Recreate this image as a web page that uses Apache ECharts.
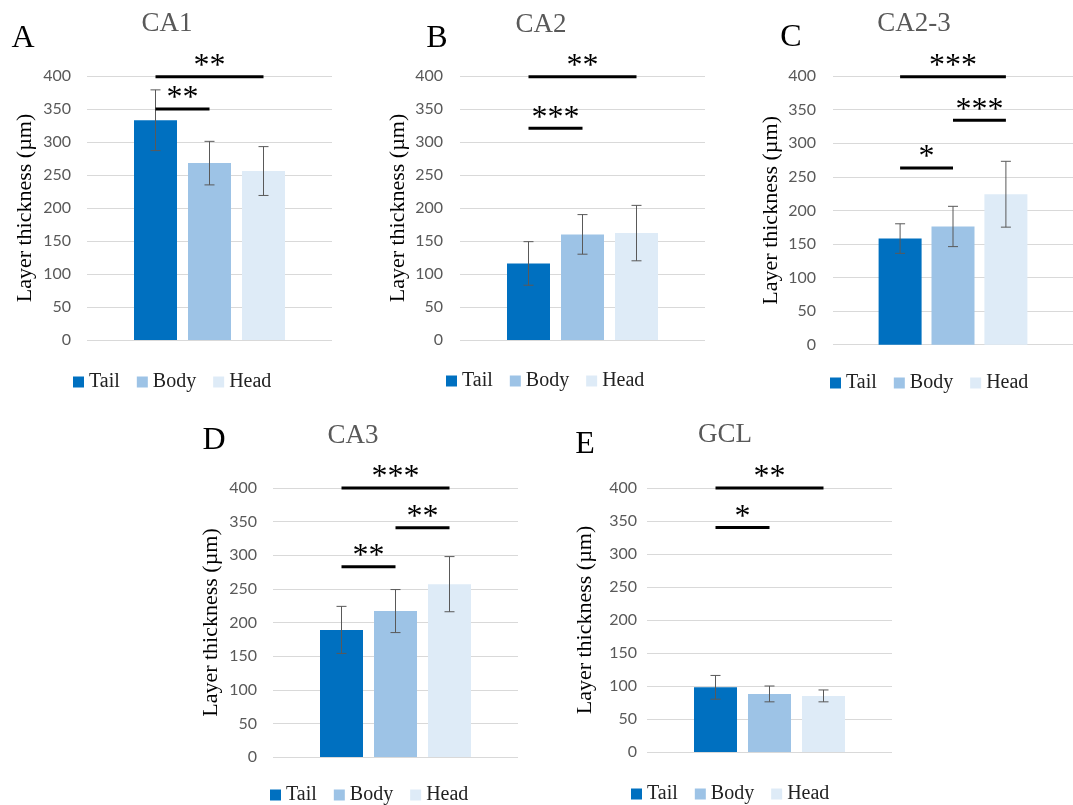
<!DOCTYPE html>
<html>
<head>
<meta charset="utf-8">
<script src="https://cdn.jsdelivr.net/npm/echarts@6/dist/echarts.min.js"></script>
<style>
  html, body { margin: 0; padding: 0; background: #fff; }
  #chart { width: 1073px; height: 805px; }
</style>
</head>
<body>
<div id="chart"></div>
<script>
// data (layer thickness, µm)
var categories = ['Tail', 'Body', 'Head'];
var panelTitles = ['CA1', 'CA2', 'CA2-3', 'CA3', 'GCL'];
var panelLetters = ['A', 'B', 'C', 'D', 'E'];

var tailMean = [333, 116, 158, 189, 98];
var bodyMean = [268, 160, 176, 217, 88];
var headMean = [256, 162, 224, 257, 85];
var tailErr = [46, 33, 22, 35, 18];
var bodyErr = [33, 30, 30, 32, 12];
var headErr = [37, 42, 49, 41, 9];

// significance brackets: [from category, to category, level, stars]
var sigA = [[0, 2, 399, '**'], [0, 1, 350, '**']];
var sigB = [[0, 2, 399, '**'], [0, 1, 321, '***']];
var sigC = [[0, 2, 399, '***'], [1, 2, 334, '***'], [0, 1, 263, '*']];
var sigD = [[0, 2, 400, '***'], [1, 2, 341, '**'], [0, 1, 283, '**']];
var sigE = [[0, 2, 400, '**'], [0, 1, 340, '*']];

var yMin = 0, yMax = 400, yStep = 50;

var means = [tailMean, bodyMean, headMean];
var errs = [tailErr, bodyErr, headErr];
var sigs = [sigA, sigB, sigC, sigD, sigE];
var colors = ['#0070C0', '#9DC3E6', '#DEEBF7'];

// panel placement (pixels)
var layout = [
  { left: 87,  top: 76,  h: 264,   lm: 16, tx: 167, ty: 24,  lx: 23,  ly: 39,  gx: 73,  gy: 383 },
  { left: 460, top: 76,  h: 264,   lm: 17, tx: 541, ty: 25,  lx: 437, ly: 39,  gx: 446, gy: 382 },
  { left: 833, top: 76,  h: 268.7, lm: 17, tx: 914, ty: 24,  lx: 791, ly: 38,  gx: 830, gy: 384 },
  { left: 273, top: 488, h: 269,   lm: 16, tx: 353, ty: 436, lx: 214, ly: 441, gx: 270, gy: 796 },
  { left: 647, top: 488, h: 264,   lm: 10, tx: 725, ty: 435, lx: 585, ly: 445, gx: 631, gy: 795 }
];
var gridW = 245, barSpacing = 54;
var half = gridW / 2 / barSpacing;

var serif = '"Liberation Serif", "DejaVu Serif", serif';

var option = {
  animation: false,
  backgroundColor: '#fff',
  grid: [], xAxis: [], yAxis: [], legend: [], series: [], graphic: []
};

layout.forEach(function (L, i) {
  option.grid.push({ left: L.left, top: L.top, width: gridW, height: L.h, containLabel: false });
  option.xAxis.push({ gridIndex: i, type: 'value', min: 1 - half, max: 1 + half, show: false });
  option.yAxis.push({
    gridIndex: i, type: 'value', min: yMin, max: yMax, interval: yStep,
    axisLine: { show: false }, axisTick: { show: false },
    splitLine: { lineStyle: { color: '#d9d9d9', width: 1 } },
    axisLabel: { color: '#595959', fontFamily: 'Lato', fontSize: 16, margin: L.lm },
    name: 'Layer thickness (µm)', nameLocation: 'middle', nameGap: 51,
    nameTextStyle: { color: '#000', fontFamily: serif, fontSize: 22 }
  });
  option.legend.push({
    data: categories, left: L.gx, top: L.gy - 11, padding: 0,
    icon: 'rect', itemWidth: 11, itemHeight: 11, itemGap: 17,
    textStyle: { color: '#222', fontFamily: serif, fontSize: 20 }
  });

  categories.forEach(function (c, k) {
    option.series.push({
      type: 'bar', name: c, xAxisIndex: i, yAxisIndex: i,
      data: [[k, means[k][i]]], barWidth: 43, barGap: '-100%',
      itemStyle: { color: colors[k] }
    });
  });

  // error bars
  option.series.push({
    type: 'custom', xAxisIndex: i, yAxisIndex: i, clip: false, z: 5,
    data: categories.map(function (c, k) {
      return [k, means[k][i] - errs[k][i], means[k][i] + errs[k][i]];
    }),
    renderItem: function (params, api) {
      var lo = api.coord([api.value(0), api.value(1)]);
      var hi = api.coord([api.value(0), api.value(2)]);
      var st = { stroke: '#595959', lineWidth: 1 };
      return {
        type: 'group', children: [
          { type: 'line', shape: { x1: hi[0], y1: hi[1], x2: lo[0], y2: lo[1] }, style: st },
          { type: 'line', shape: { x1: hi[0] - 5, y1: hi[1], x2: hi[0] + 5, y2: hi[1] }, style: st },
          { type: 'line', shape: { x1: lo[0] - 5, y1: lo[1], x2: lo[0] + 5, y2: lo[1] }, style: st }
        ]
      };
    }
  });

  // significance brackets
  option.series.push({
    type: 'custom', xAxisIndex: i, yAxisIndex: i, clip: false, z: 6,
    data: sigs[i].map(function (s) { return [s[0], s[1], s[2]]; }),
    renderItem: function (params, api) {
      var a = api.coord([api.value(0), api.value(2)]);
      var b = api.coord([api.value(1), api.value(2)]);
      var label = sigs[i][params.dataIndex][3];
      return {
        type: 'group', children: [
          { type: 'line', shape: { x1: a[0], y1: a[1], x2: b[0], y2: b[1] },
            style: { stroke: '#000', lineWidth: 3 } },
          { type: 'text', x: (a[0] + b[0]) / 2, y: a[1] - 10,
            style: { text: label, fill: '#000', font: '32px ' + serif,
                     textAlign: 'center', textVerticalAlign: 'middle' } }
        ]
      };
    }
  });

  option.graphic.push({
    type: 'text', x: L.tx, y: L.ty,
    style: { text: panelTitles[i], fill: '#595959', font: '27px ' + serif,
             textAlign: 'center', textVerticalAlign: 'middle' }
  });
  option.graphic.push({
    type: 'text', x: L.lx, y: L.ly,
    style: { text: panelLetters[i], fill: '#000', font: '32px ' + serif,
             textAlign: 'center', textVerticalAlign: 'middle' }
  });
});

var chart = echarts.init(document.getElementById('chart'));
chart.setOption(option);
</script>
</body>
</html>
